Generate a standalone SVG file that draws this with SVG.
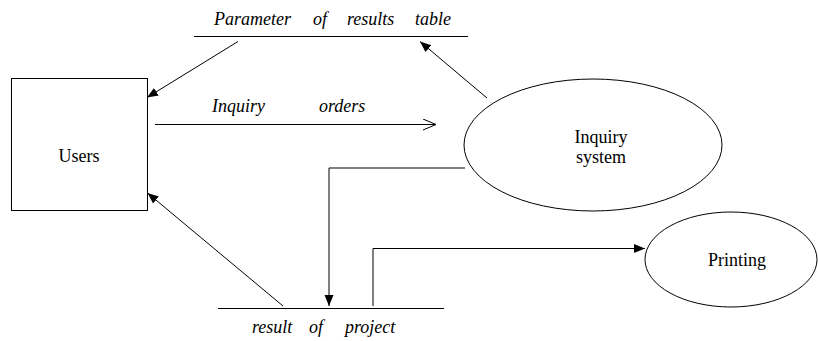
<svg xmlns="http://www.w3.org/2000/svg" width="818" height="341" viewBox="0 0 818 341">
<style>
.s{fill:none;stroke:#000;stroke-width:1}
.t{font-family:'Liberation Serif',Tinos,'Times New Roman',Times,'Noto Serif','DejaVu Serif',FreeSerif,serif;font-size:18px;fill:#000}
.i{font-style:italic}
.c{text-anchor:middle}
</style>
<defs>
<marker id="fa" markerUnits="userSpaceOnUse" markerWidth="12" markerHeight="10" refX="11" refY="4.5" orient="auto"><path d="M0,0 L11,4.5 L0,9 z" fill="#000"/></marker>
<marker id="oa" markerUnits="userSpaceOnUse" markerWidth="14" markerHeight="12" refX="13" refY="5.5" orient="auto"><path d="M0,0 L13,5.5 L0,11" fill="none" stroke="#000" stroke-width="1"/></marker>
</defs>
<rect width="818" height="341" fill="#fff"/>
<g id="users"><rect class="s" x="11.5" y="78.5" width="136" height="132"/><text class="t c" x="79" y="162">Users</text></g>
<g id="inquiry-system"><ellipse class="s" cx="593" cy="145" rx="129" ry="66"/><text class="t c" x="601" y="143">Inquiry</text><text class="t c" x="601" y="163">system</text></g>
<g id="printing"><ellipse class="s" cx="731" cy="259.5" rx="86" ry="47.5"/><text class="t c" x="737" y="266">Printing</text></g>
<g id="parameter-store"><line class="s" x1="194" y1="36.5" x2="468" y2="36.5"/><text class="t i" y="25"><tspan x="214">Parameter</tspan><tspan x="313">of</tspan><tspan x="347">results</tspan><tspan x="415">table</tspan></text></g>
<g id="result-store"><line class="s" x1="218" y1="308.5" x2="444" y2="308.5"/><text class="t i" y="333"><tspan x="252">result</tspan><tspan x="309">of</tspan><tspan x="345">project</tspan></text></g>
<g id="connectors">
<line class="s" x1="238" y1="41.5" x2="147" y2="97.5" marker-end="url(#fa)"/>
<line class="s" x1="487" y1="98" x2="420" y2="41.5" marker-end="url(#fa)"/>
<line class="s" x1="155" y1="124.5" x2="436" y2="124.5" marker-end="url(#oa)"/>
<text class="t i" x="212" y="112">Inquiry</text>
<text class="t i" x="319" y="112">orders</text>
<polyline class="s" points="465,168 329,168 329,306" marker-end="url(#fa)"/>
<line class="s" x1="283" y1="306" x2="147.5" y2="193" marker-end="url(#fa)"/>
<polyline class="s" points="373,306 373,248.5 645,248.5" marker-end="url(#fa)"/>
</g>
</svg>
